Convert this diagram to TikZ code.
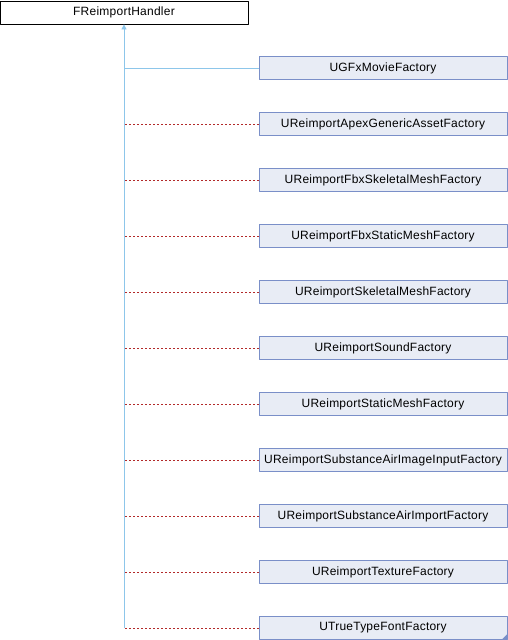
\documentclass[tikz,border=0pt]{standalone}
\usepackage{fontspec}
\setmainfont{Liberation Sans}[LetterSpace=2]
\usetikzlibrary{arrows.meta}
\definecolor{classfill}{HTML}{E8ECF5}
\definecolor{classline}{HTML}{7A8FC8}
\definecolor{publine}{HTML}{8DC6EA}
\definecolor{privline}{HTML}{B22A2A}
\tikzset{
	rootbox/.style={draw=black,fill=white,line width=0.8pt,minimum width=248pt,minimum height=23pt,inner sep=0pt,font=\fontsize{12}{14}\selectfont},
	classbox/.style={draw=classline,fill=classfill,line width=0.8pt,minimum width=248pt,minimum height=23pt,inner sep=0pt,font=\fontsize{12}{14}\selectfont},
	publink/.style={draw=publine,line width=0.8pt},
	privlink/.style={draw=privline,line width=0.8pt,dash pattern=on 2pt off 2pt}
}

\begin{document}
\begin{tikzpicture}[line join=round,x=1pt,y=-1pt]
		\useasboundingbox (0,0) rectangle (508,640);
		\node[rootbox] (handler) at (124,12.5) {FReimportHandler};
		% derived classes
		\foreach \i/\cls in {1/UGFxMovieFactory,2/UReimportApexGenericAssetFactory,3/UReimportFbxSkeletalMeshFactory,4/UReimportFbxStaticMeshFactory,5/UReimportSkeletalMeshFactory,6/UReimportSoundFactory,7/UReimportStaticMeshFactory,8/UReimportSubstanceAirImageInputFactory,9/UReimportSubstanceAirImportFactory,10/UReimportTextureFactory,11/UTrueTypeFontFactory}
			\node[classbox] (cls\i) at (383,{12+56*\i}) {\cls};
		\coordinate (trunk) at (handler.south |- cls11.west);
		\draw[publink,-{Triangle[length=5pt,width=5pt]}] (trunk) -- (handler.south);
		\draw[publink] (cls1.west) -- (cls1.west -| handler.south);
		\foreach \i in {2,...,11}
			\draw[privlink] (cls\i.west) -- (cls\i.west -| handler.south);
		% more marker
		\fill[classline] (cls11.south east) -- ++(-6,0) -- ++(6,-6) -- cycle;
	\end{tikzpicture}
\end{document}
